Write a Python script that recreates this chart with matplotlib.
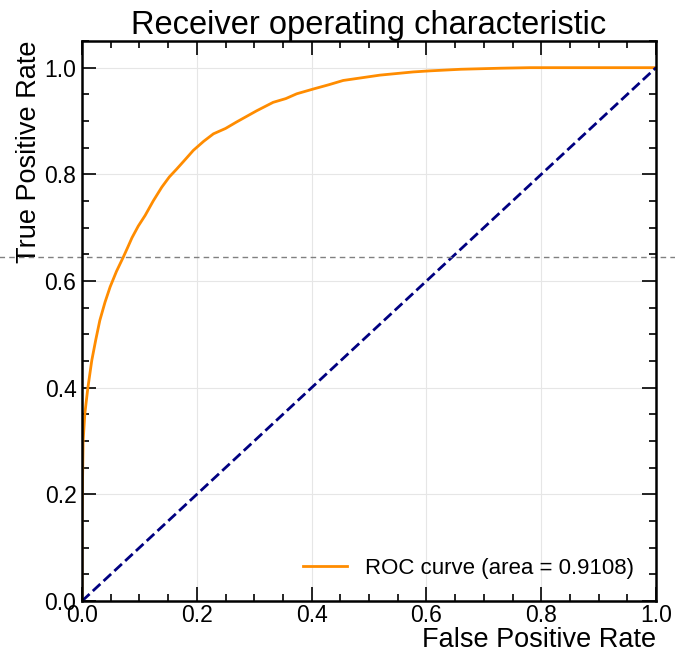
"""
ROC curve for the classifier with a random-guess diagonal and a
reference line at the working-point TPR.
"""
import matplotlib
matplotlib.use('Agg')
import matplotlib.pyplot as plt
import numpy as np
from matplotlib.ticker import MultipleLocator

plt.rcParams['font.family'] = ['Liberation Sans', 'DejaVu Sans']

# --- ROC points (fpr, tpr) ---
fpr = [0.000, 0.000, 0.001, 0.002, 0.005, 0.010, 0.017, 0.024, 0.031, 0.040,
       0.049, 0.060, 0.072, 0.080, 0.087, 0.098, 0.110, 0.124, 0.139, 0.152,
       0.165, 0.180, 0.194, 0.212, 0.229, 0.250, 0.269, 0.304, 0.333, 0.355,
       0.374, 0.403, 0.430, 0.455, 0.519, 0.577, 0.606, 0.660, 0.730, 0.780,
       0.850, 1.000]
tpr = [0.000, 0.150, 0.230, 0.301, 0.352, 0.398, 0.451, 0.490, 0.526, 0.560,
       0.589, 0.618, 0.645, 0.664, 0.681, 0.703, 0.723, 0.750, 0.776, 0.795,
       0.810, 0.828, 0.845, 0.862, 0.876, 0.886, 0.898, 0.919, 0.935, 0.942,
       0.951, 0.960, 0.968, 0.976, 0.986, 0.992, 0.994, 0.997, 0.999, 1.000,
       1.000, 1.000]
roc_auc = 0.9108
tpr_ref = 0.645

fig = plt.figure(figsize=(6.75, 6.57), dpi=100)
ax = fig.add_axes([0.1215, 0.0852, 0.8504, 0.8524])

ax.plot(fpr, tpr, color='darkorange', lw=2,
        label=f'ROC curve (area = {roc_auc:.4f})')
ax.plot([0, 1], [0, 1], color='navy', lw=2, linestyle='--')
ax.axhline(tpr_ref, xmin=-0.15, xmax=1.05, clip_on=False,
           color='gray', lw=1, linestyle='--', dashes=(4, 3))

ax.set_xlim(0.0, 1.0)
ax.set_ylim(0.0, 1.05)
ax.xaxis.set_major_locator(MultipleLocator(0.2))
ax.yaxis.set_major_locator(MultipleLocator(0.2))
ax.xaxis.set_minor_locator(MultipleLocator(0.05))
ax.yaxis.set_minor_locator(MultipleLocator(0.05))
ax.tick_params(which='both', direction='in', top=True, right=True,
               labelsize=16.5, width=1.2)
ax.tick_params(which='major', length=10)
ax.tick_params(which='minor', length=5)
ax.tick_params(axis='x', pad=2)
ax.tick_params(axis='y', pad=4)
for sp in ax.spines.values():
    sp.set_linewidth(1.8)
ax.grid(True, color='#e6e6e6', lw=0.8)

ax.set_xlabel('False Positive Rate', fontsize=19.5, loc='right', labelpad=0)
ax.set_ylabel('True Positive Rate', fontsize=19.5, loc='top', labelpad=2)
ax.set_title('Receiver operating characteristic', fontsize=23.5, pad=3)
ax.legend(loc='lower right', frameon=False, fontsize=16,
          handlelength=2.0, borderaxespad=0.6)

fig.savefig('out.png', dpi=100)
